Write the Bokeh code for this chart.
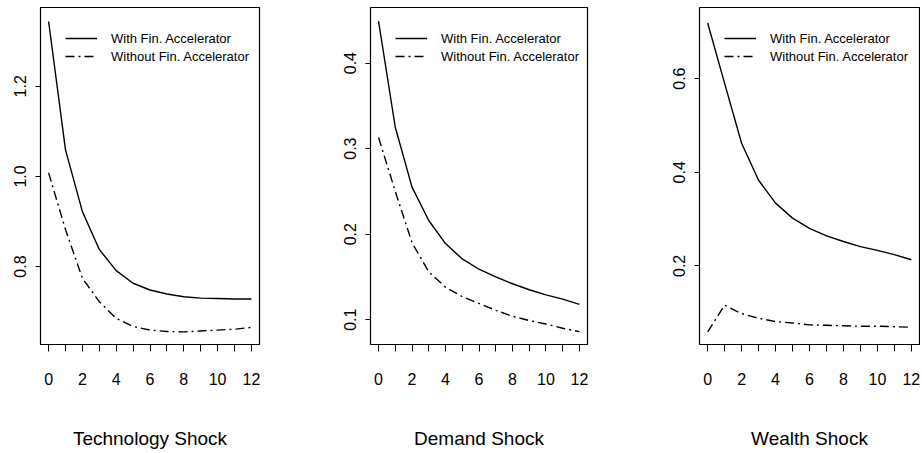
from bokeh.plotting import figure
from bokeh.layouts import row
from bokeh.models import Range1d, FixedTicker, Legend, LegendItem
from bokeh.embed import file_html
from bokeh.resources import INLINE

periods = list(range(13))
x_tick_labels = {0: "0", 2: "2", 4: "4", 6: "6", 8: "8", 10: "10", 12: "12"}

tech_with = [1.344, 1.059, 0.922, 0.838, 0.791, 0.763, 0.748, 0.739, 0.733, 0.730, 0.729, 0.728, 0.728]
tech_without = [1.008, 0.882, 0.774, 0.722, 0.685, 0.667, 0.659, 0.656, 0.655, 0.657, 0.659, 0.661, 0.665]
demand_with = [0.449, 0.325, 0.255, 0.216, 0.189, 0.171, 0.159, 0.150, 0.142, 0.135, 0.129, 0.124, 0.118]
demand_without = [0.313, 0.250, 0.190, 0.156, 0.138, 0.127, 0.119, 0.111, 0.104, 0.099, 0.095, 0.090, 0.086]
wealth_with = [0.719, 0.590, 0.462, 0.383, 0.334, 0.302, 0.280, 0.264, 0.252, 0.241, 0.233, 0.224, 0.213]
wealth_without = [0.059, 0.116, 0.098, 0.088, 0.081, 0.078, 0.074, 0.073, 0.072, 0.071, 0.071, 0.070, 0.069]

titles = ["Technology Shock", "Demand Shock", "Wealth Shock"]
y_ticks = [[0.8, 1.0, 1.2], [0.1, 0.2, 0.3, 0.4], [0.2, 0.4, 0.6]]
y_ranges = [(0.627, 1.375), (0.071, 0.465), (0.032, 0.752)]
legend_labels = ["With Fin. Accelerator", "Without Fin. Accelerator"]

FONT = "Liberation Sans"

layout_specs = [
    dict(width=318, left=40, right=59),
    dict(width=310, left=52, right=41),
    dict(width=292, left=71, right=1),
]

series = [(tech_with, tech_without), (demand_with, demand_without), (wealth_with, wealth_without)]

figs = []
for i in range(3):
    spec = layout_specs[i]
    p = figure(width=spec["width"], height=453, output_backend="svg", toolbar_location=None,
               x_range=Range1d(-0.48, 12.48), y_range=Range1d(*y_ranges[i]),
               min_border_left=spec["left"], min_border_right=spec["right"],
               min_border_top=7, min_border_bottom=109)
    p.background_fill_color = "white"
    p.border_fill_color = "white"
    p.outline_line_color = "black"
    p.outline_line_width = 1.2
    p.grid.visible = False

    w, wo = series[i]
    r1 = p.line(periods, w, line_color="black", line_width=1.4)
    r2 = p.line(periods, wo, line_color="black", line_width=1.4, line_dash="9 4 2 4")

    xa = p.xaxis[0]
    xa.ticker = FixedTicker(ticks=periods)
    xa.major_label_overrides = {k: x_tick_labels.get(k, "") for k in periods}
    xa.axis_line_color = None
    xa.major_tick_out = 7
    xa.major_tick_in = 0
    xa.minor_tick_out = 0
    xa.major_tick_line_color = "black"
    xa.major_label_standoff = 21
    xa.major_label_text_font = FONT
    xa.major_label_text_font_size = "16px"
    xa.major_label_text_color = "black"
    xa.axis_label = titles[i]
    xa.axis_label_standoff = 40
    xa.axis_label_text_font = FONT
    xa.axis_label_text_font_size = "19px"
    xa.axis_label_text_font_style = "normal"
    xa.axis_label_text_color = "black"

    ya = p.yaxis[0]
    ya.ticker = FixedTicker(ticks=y_ticks[i])
    ya.major_label_overrides = {t: f"{t:.1f}" for t in y_ticks[i]}
    ya.axis_line_color = None
    ya.major_tick_out = 5
    ya.major_tick_in = 0
    ya.minor_tick_out = 0
    ya.major_tick_line_color = "black"
    ya.major_label_orientation = "vertical"
    ya.major_label_standoff = 9
    ya.major_label_text_font = FONT
    ya.major_label_text_font_size = "16px"
    ya.major_label_text_color = "black"

    legend = Legend(items=[LegendItem(label=legend_labels[0], renderers=[r1]),
                           LegendItem(label=legend_labels[1], renderers=[r2])],
                    location=(25, 279), margin=0, padding=0, spacing=0,
                    glyph_width=32, glyph_height=18, label_height=18, label_standoff=14,
                    label_text_font=FONT, label_text_font_size="13px", label_text_color="black",
                    background_fill_alpha=0, border_line_color=None)
    p.add_layout(legend, "center")
    figs.append(p)

layout = row(*figs)
open("out.html", "w").write(file_html(layout, INLINE))
